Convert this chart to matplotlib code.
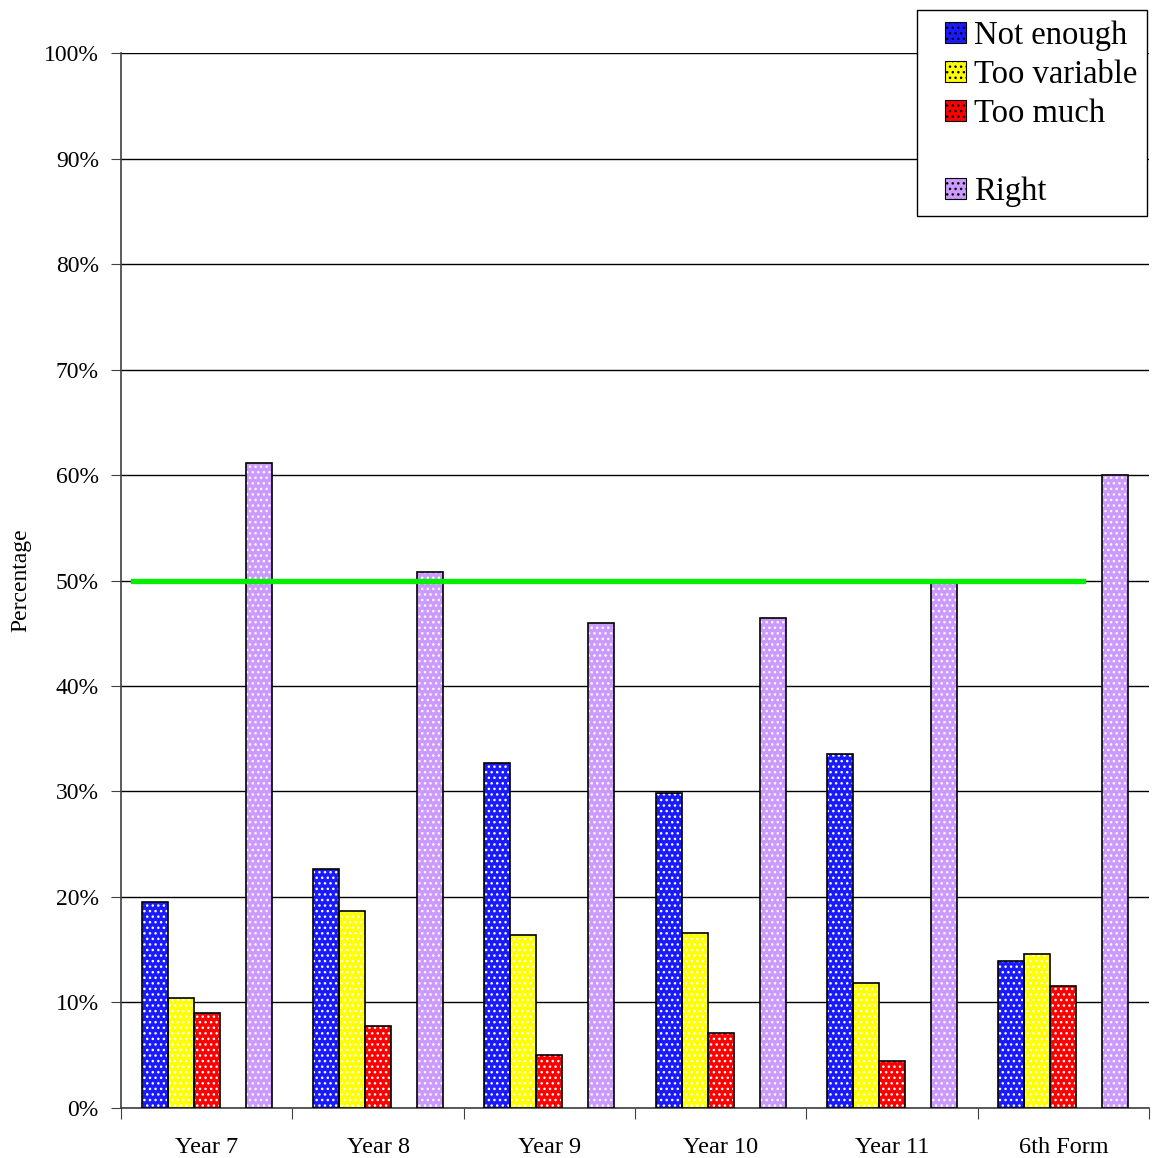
import matplotlib
matplotlib.use("Agg")
import matplotlib.pyplot as plt
from matplotlib.patches import Patch, Rectangle
from matplotlib.legend_handler import HandlerPatch
import numpy as np

categories = ["Year 7", "Year 8", "Year 9", "Year 10", "Year 11", "6th Form"]
not_enough = [19.5, 22.7, 32.7, 29.9, 33.6, 13.9]
too_variable = [10.4, 18.7, 16.4, 16.6, 11.8, 14.6]
too_much = [9.0, 7.8, 5.0, 7.1, 4.5, 11.6]
right = [61.1, 50.8, 46.0, 46.4, 50.0, 60.0]
target_level = 50

series = [
    ("Not enough", not_enough, "#1a1aff"),
    ("Too variable", too_variable, "#ffff00"),
    ("Too much", too_much, "#ff0000"),
    (" ", None, None),
    ("Right", right, "#cc99ff"),
]

plt.rcParams['font.family'] = ['Liberation Serif', 'DejaVu Serif']
plt.rcParams['hatch.color'] = 'white'
plt.rcParams['hatch.linewidth'] = 1.0

fig = plt.figure(figsize=(11.59, 11.58), dpi=100)
ax = fig.add_axes([0.1044, 0.0432, 0.887, 0.911])

n_slots = len(series)
group_gap = 0.2412
bw = (1 - group_gap) / n_slots
x0 = np.arange(len(categories))

handles = []
for j, (label, vals, color) in enumerate(series):
    if vals is None:
        handles.append(Patch(facecolor='none', edgecolor='none', label=label))
        continue
    xs = x0 + group_gap / 2 + bw * (j + 0.5)
    ax.bar(xs, vals, width=bw, color=color, hatch='...', linewidth=0, zorder=3)
    ax.bar(xs, vals, width=bw, fill=False, edgecolor='black', linewidth=1.2, zorder=4)
    handles.append(Patch(facecolor=color, hatch='...', edgecolor='black', linewidth=0.8, label=label))

ax.axhline(target_level, xmin=0.0117, xmax=0.936, color='#00ee00', linewidth=3.8, zorder=5)

ax.set_xlim(0, len(categories))
ax.set_ylim(0, 100)
ax.set_yticks(np.arange(0, 101, 10))
ax.set_yticklabels([f"{v}%" for v in range(0, 101, 10)])
ax.set_xticks(np.arange(0, len(categories) + 1))
ax.set_xticklabels([])
ax.set_xticks(x0 + 0.5, minor=True)
ax.set_xticklabels(categories, minor=True)
ax.tick_params(axis='x', which='minor', length=0, pad=21, labelsize=17.5)
ax.tick_params(axis='x', which='major', length=8, direction='out', color='#404040')
ax.tick_params(axis='y', length=7, direction='out', labelsize=17, pad=9, color='#404040')
ax.yaxis.grid(True, color='black', linewidth=1.0, zorder=0)
ax.set_axisbelow(True)
for s in ['top', 'right']:
    ax.spines[s].set_visible(False)
for s in ['left', 'bottom']:
    ax.spines[s].set_color('#404040')
    ax.spines[s].set_linewidth(1.2)

fig.text(0.018, 0.499, "Percentage", rotation=90, ha='center', va='center', fontsize=17)


def square_patch(legend, orig_handle, xdescent, ydescent, width, height, fontsize):
    s = height
    return Rectangle((-xdescent + width - s, -ydescent), s, s)


leg = fig.legend(handles=handles, loc='upper left', bbox_to_anchor=(0.791, 0.991),
                 fontsize=23.5, frameon=True, fancybox=False, framealpha=1.0,
                 handlelength=1.2, handleheight=0.62,
                 handletextpad=0.25, labelspacing=0.26, borderpad=0.3, borderaxespad=0,
                 handler_map={Patch: HandlerPatch(patch_func=square_patch)})
leg.get_frame().set_edgecolor('black')
leg.get_frame().set_linewidth(1.0)
leg.set_zorder(10)

fig.savefig("out.png", dpi=100)
